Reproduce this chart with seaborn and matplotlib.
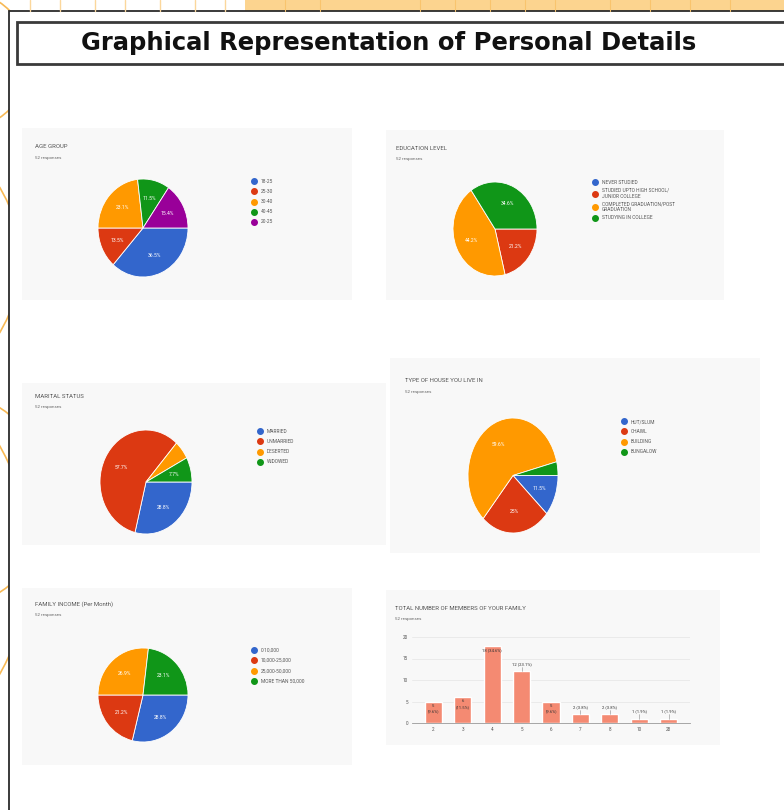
import matplotlib
matplotlib.use('Agg')
import matplotlib.pyplot as plt
from matplotlib.lines import Line2D
from matplotlib.patches import Rectangle, Arc
import seaborn as sns

sns.set_style('white')
plt.rcParams['font.family'] = ['Roboto', 'DejaVu Sans']

W, H = 784, 810

# data (52 responses each)
age_labels = ['18-25', '25-30', '30-40', '40-45', '20-25']
age_counts = [19, 7, 12, 6, 8]

edu_labels = ['NEVER STUDIED', 'STUDIED UPTO HIGH SCHOOL/\nJUNIOR COLLEGE',
              'COMPLETED GRADUATION/POST\nGRADUATION', 'STUDYING IN COLLEGE']
edu_counts = [0, 11, 23, 18]

marital_labels = ['MARRIED', 'UNMARRIED', 'DESERTED', 'WIDOWED']
marital_counts = [15, 30, 3, 4]

house_labels = ['HUT/SLUM', 'CHAWL', 'BUILDING', 'BUNGALOW']
house_counts = [6, 13, 31, 2]

income_labels = ['0-10,000', '10,000-25,000', '25,000-50,000', 'MORE THAN 50,000']
income_counts = [15, 11, 14, 12]

members = ['2', '3', '4', '5', '6', '7', '8', '10', '28']
member_counts = [5, 6, 18, 12, 5, 2, 2, 1, 1]

gcolors = ['#3366cc', '#dc3912', '#ff9900', '#109618', '#990099']
bar_color = '#f48a72'


def box(x0, y0, x1, y1):
    return [x0 / W, 1 - y1 / H, (x1 - x0) / W, (y1 - y0) / H]


fig = plt.figure(figsize=(W / 100, H / 100), dpi=100)
fig.patch.set_facecolor('white')

# slide background, page border, panel backgrounds
bg = fig.add_axes([0, 0, 1, 1], zorder=-5)
bg.set_xlim(0, W)
bg.set_ylim(H, 0)
bg.axis('off')
bg.add_patch(Rectangle((245, 0), W - 245, 11, color='#fcd48f', lw=0))
for x in [30, 60, 95, 125, 160, 195, 225]:
    bg.plot([x, x], [0, 11], color='#fbd79c', lw=1)
for x in [285, 320, 420, 455, 490, 525, 555, 610, 650, 690, 730]:
    bg.plot([x, x], [0, 11], color='#f9c46d', lw=0.8)
for cx, cy, r in [(-40, 60, 70), (-120, 260, 140), (-60, 500, 110), (-200, 560, 230)]:
    bg.add_patch(Arc((cx, cy), 2 * r, 2 * r, color='#f7b955', lw=1.2))
bg.add_patch(Rectangle((9, 11), W, H, facecolor='white', edgecolor='#2b2b2b', lw=1.3))
for x0, y0, x1, y1 in [(22, 128, 352, 300), (386, 130, 724, 300), (22, 383, 386, 545),
                       (390, 358, 760, 553), (22, 588, 352, 765), (386, 590, 720, 745)]:
    bg.add_patch(Rectangle((x0, y0), x1 - x0, y1 - y0, facecolor='#f8f8f8', lw=0))
bg.add_patch(Rectangle((17, 22), W, 42, facecolor='white', edgecolor='#3a3a3a', lw=2))
bg.text(389, 43, 'Graphical Representation of Personal Details', ha='center', va='center',
        fontsize=17.5, fontweight='bold', family='DejaVu Sans', color='#111111')


def panel_title(x, y, title):
    fig.text(x / W, 1 - y / H, title, fontsize=4.3, color='#555555', va='center')
    fig.text(x / W, 1 - (y + 11) / H, '52 responses', fontsize=3.2, color='#666666', va='center')


def fmt(p):
    if p < 6:
        return ''
    s = f'{p:.1f}'
    return (s[:-2] if s.endswith('.0') else s) + '%'


def pie_panel(bb, values, labels, leg_xy, spacing=1.0):
    ax = fig.add_axes(box(*bb))
    ax.pie(values, colors=gcolors[:len(values)], startangle=0, counterclock=False,
           autopct=fmt, pctdistance=0.62,
           wedgeprops=dict(linewidth=0.6, edgecolor='white'),
           textprops=dict(color='white', fontsize=3.6))
    ax.set_aspect('auto')
    ax.set_xlim(-1, 1)
    ax.set_ylim(-1, 1)
    handles = [Line2D([], [], marker='o', ls='', color=c, markersize=4)
               for c in gcolors[:len(values)]]
    fig.legend(handles, labels, loc='upper left',
               bbox_to_anchor=(leg_xy[0] / W, 1 - leg_xy[1] / H),
               frameon=False, fontsize=3.5, labelcolor='#555555',
               handlelength=0.6, handletextpad=1.0, labelspacing=spacing,
               borderpad=0, borderaxespad=0)
    return ax


panel_title(35, 147, 'AGE GROUP')
pie_panel((98, 179, 188, 277), age_counts, age_labels, (253, 179), 1.05)

panel_title(396, 148, 'EDUCATION LEVEL')
pie_panel((453, 182, 537, 276), edu_counts, edu_labels, (594, 180), 0.6)

panel_title(35, 396, 'MARITAL STATUS')
pie_panel((100, 430, 192, 534), marital_counts, marital_labels, (259, 429), 1.05)

panel_title(405, 381, 'TYPE OF HOUSE YOU LIVE IN')
pie_panel((468, 418, 558, 533), house_counts, house_labels, (623, 419), 1.05)

panel_title(35, 604, 'FAMILY INCOME (Per Month)')
pie_panel((98, 648, 188, 742), income_counts, income_labels, (253, 648), 1.05)

# bar chart of family size
panel_title(395, 608, 'TOTAL NUMBER OF MEMBERS OF YOUR FAMILY')
bx = fig.add_axes(box(412, 637, 690, 723))
sns.barplot(x=members, y=member_counts, color=bar_color, width=0.58,
            saturation=1, ax=bx, zorder=3)
bx.set_ylim(0, 20)
bx.set_yticks([0, 5, 10, 15, 20])
bx.grid(axis='y', color='#e4e4e4', lw=0.5, zorder=0)
sns.despine(ax=bx, left=True)
bx.spines['bottom'].set_color('#999999')
bx.spines['bottom'].set_linewidth(0.6)
bx.tick_params(axis='both', labelsize=3.3, colors='#555555', length=0, pad=3)
bx.set_xlabel('')
bx.set_ylabel('')
bx.set_facecolor('none')
total = sum(member_counts)
for i, v in enumerate(member_counts):
    pct = f'{100 * v / total:.1f}%'
    if v == 18:
        bx.text(i, v - 0.6, f'{v} ({pct})', ha='center', va='top', fontsize=3.0, color='#333333')
    elif v >= 5 and v != 12:
        bx.text(i, v - 0.5, f'{v}\n({pct})', ha='center', va='top', fontsize=3.0,
                color='#333333', linespacing=1.6)
    else:
        bx.text(i, v + 1.2, f'{v} ({pct})', ha='center', va='bottom', fontsize=3.0, color='#333333')
        bx.plot([i, i], [v, v + 1.0], color='#888888', lw=0.4, zorder=4)

fig.savefig('out.png', dpi=100)
